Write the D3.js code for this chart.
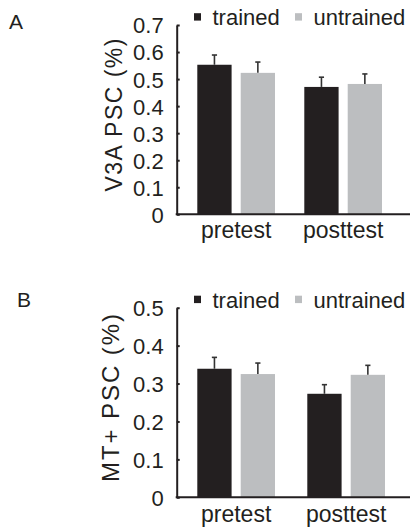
<!DOCTYPE html>
<html>
<head>
<meta charset="utf-8">
<script src="https://cdn.jsdelivr.net/npm/d3@7"></script>
<style>
  body { margin: 0; background: #fff; }
  svg { display: block; font-family: "Liberation Sans", Arial, sans-serif; }
</style>
</head>
<body>
<svg id="chart" width="410" height="529"></svg>
<script>
var groups = ["pretest", "posttest"];
var series = ["trained", "untrained"];

// V3A panel (A)
var v3aTrained = [0.553, 0.471];
var v3aUntrained = [0.523, 0.482];
var v3aTrainedErr = [0.036, 0.036];
var v3aUntrainedErr = [0.040, 0.037];
var v3aTicks = [0, 0.1, 0.2, 0.3, 0.4, 0.5, 0.6, 0.7];

// MT+ panel (B)
var mtTrained = [0.339, 0.273];
var mtUntrained = [0.325, 0.323];
var mtTrainedErr = [0.030, 0.024];
var mtUntrainedErr = [0.029, 0.025];
var mtTicks = [0, 0.1, 0.2, 0.3, 0.4, 0.5];

var ink = "#231f20";
var colors = { trained: "#231f20", untrained: "#bcbec0" };

var svg = d3.select("#chart");

function drawPanel(p) {
  var g = svg.append("g");

  var y = d3.scaleLinear()
    .domain([0, d3.max(p.ticks)])
    .range([p.bottom, p.top]);

  var x0 = d3.scaleBand()
    .domain(groups)
    .range([p.barStart, p.barStart + p.step + 77.7])
    .paddingInner(1 - 77.7 / p.step);

  var x1 = d3.scaleBand()
    .domain(series)
    .range([0, x0.bandwidth()])
    .paddingInner(0.21);

  var rows = [];
  groups.forEach(function(grp, i) {
    rows.push({ group: grp, key: "trained", value: p.trained[i], err: p.trainedErr[i] });
    rows.push({ group: grp, key: "untrained", value: p.untrained[i], err: p.untrainedErr[i] });
  });

  // bars
  g.selectAll(".bar")
    .data(rows)
    .join("rect")
    .attr("class", "bar")
    .attr("x", function(d) { return x0(d.group) + x1(d.key); })
    .attr("width", x1.bandwidth())
    .attr("y", function(d) { return y(d.value); })
    .attr("height", function(d) { return y(0) - y(d.value); })
    .style("fill", function(d) { return colors[d.key]; });

  // error bars (upper only)
  var eb = g.selectAll(".err")
    .data(rows)
    .join("g")
    .attr("class", "err")
    .attr("transform", function(d) {
      return "translate(" + (x0(d.group) + x1(d.key) + x1.bandwidth() / 2) + ",0)";
    });
  eb.append("line")
    .attr("x1", 0).attr("x2", 0)
    .attr("y1", function(d) { return y(d.value); })
    .attr("y2", function(d) { return y(d.value + d.err); })
    .style("stroke", "#333")
    .style("stroke-width", 1.6);
  eb.append("line")
    .attr("x1", -2.6).attr("x2", 2.6)
    .attr("y1", function(d) { return y(d.value + d.err); })
    .attr("y2", function(d) { return y(d.value + d.err); })
    .style("stroke", "#333")
    .style("stroke-width", 1.6);

  // y axis
  var yAxis = g.append("g")
    .attr("transform", "translate(" + p.axisX + ",0)")
    .call(d3.axisLeft(y)
      .tickValues(p.ticks)
      .tickFormat(function(d) { return d === 0 ? "0" : d.toFixed(1); })
      .tickSizeInner(-3)
      .tickSizeOuter(0)
      .tickPadding(13));
  yAxis.attr("font-size", 22).attr("font-family", null);
  yAxis.selectAll("text").style("fill", ink).attr("dy", "0.36em");
  yAxis.selectAll("line").style("stroke", ink).style("stroke-width", 2);
  yAxis.select(".domain").style("stroke", ink).style("stroke-width", 2);

  // x axis line
  g.append("line")
    .attr("x1", p.axisX - 1)
    .attr("x2", 410)
    .attr("y1", y(0))
    .attr("y2", y(0))
    .style("stroke", ink)
    .style("stroke-width", 2);

  g.selectAll(".cat")
    .data(groups)
    .join("text")
    .attr("class", "cat")
    .attr("x", function(d) { return x0(d) + x0.bandwidth() / 2; })
    .attr("y", p.catY)
    .attr("text-anchor", "middle")
    .style("font-size", "23px")
    .style("fill", ink)
    .text(function(d) { return d; });

  // y label
  g.append("text")
    .attr("transform", "translate(" + p.labelX + "," + p.labelY + ") rotate(-90)")
    .attr("text-anchor", "middle")
    .attr("textLength", p.labelLen)
    .attr("lengthAdjust", "spacing")
    .style("font-size", p.labelSize + "px")
    .style("fill", ink)
    .text(p.label);

  // panel letter
  g.append("text")
    .attr("x", p.letterX)
    .attr("y", p.letterY)
    .style("font-size", "21px")
    .style("fill", ink)
    .text(p.letter);

  // legend
  var legX = [194, 295];
  var legend = g.selectAll(".leg")
    .data(series)
    .join("g")
    .attr("class", "leg")
    .attr("transform", function(d, i) { return "translate(" + legX[i] + "," + p.legendY + ")"; });
  legend.append("rect")
    .attr("x", 0)
    .attr("y", -11.8)
    .attr("width", 7)
    .attr("height", 7.4)
    .style("fill", function(d) { return colors[d]; });
  legend.append("text")
    .attr("x", 18.5)
    .attr("y", 0)
    .style("font-size", "22px")
    .style("fill", ink)
    .text(function(d) { return d; });
}

drawPanel({
  letter: "A", letterX: 9, letterY: 28.5,
  label: "V3A PSC (%)", labelX: 121.5, labelY: 115, labelLen: 153, labelSize: 23,
  ticks: v3aTicks, trained: v3aTrained, untrained: v3aUntrained,
  trainedErr: v3aTrainedErr, untrainedErr: v3aUntrainedErr,
  top: 25, bottom: 214.3, axisX: 176.7,
  barStart: 197.3, step: 107, catY: 238, legendY: 25
});

drawPanel({
  letter: "B", letterX: 17, letterY: 307,
  label: "MT+ PSC (%)", labelX: 119, labelY: 398, labelLen: 168, labelSize: 24,
  ticks: mtTicks, trained: mtTrained, untrained: mtUntrained,
  trainedErr: mtTrainedErr, untrainedErr: mtUntrainedErr,
  top: 307.7, bottom: 497.3, axisX: 176.7,
  barStart: 197.3, step: 110, catY: 522, legendY: 307.5
});
</script>
</body>
</html>
